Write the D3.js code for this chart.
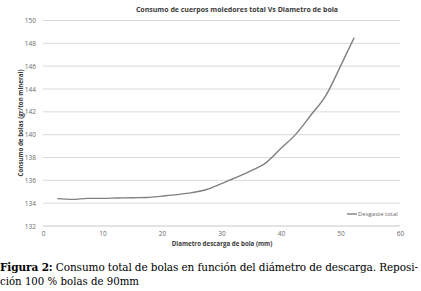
<!DOCTYPE html>
<html>
<head>
<meta charset="utf-8">
<script src="https://cdn.jsdelivr.net/npm/d3@7"></script>
<style>
  body { margin: 0; background: #fff; }
  svg { display: block; }
</style>
</head>
<body>
<div id="chart"></div>
<script>
// values
var diametro = [2.4, 5, 7.5, 10, 12.5, 15, 17.5, 20, 22.5, 25, 27.5, 30, 32.5, 35, 37.5, 40, 42.5, 45, 47.5, 50, 51, 52.3];
var desgaste = [134.4, 134.33, 134.42, 134.42, 134.45, 134.48, 134.5, 134.62, 134.75, 134.92, 135.2, 135.72, 136.25, 136.85, 137.55, 138.8, 140.05, 141.7, 143.4, 146.0, 147.1, 148.5];
var xTicks = [0, 10, 20, 30, 40, 50, 60];
var yTicks = [132, 134, 136, 138, 140, 142, 144, 146, 148, 150];

var width = 421, height = 291;
var margin = { top: 20.5, bottom: 65, left: 43, right: 21 };

var svg = d3.select("#chart").append("svg")
  .attr("width", width)
  .attr("height", height);

var x = d3.scaleLinear().domain([0, 60]).range([margin.left, width - margin.right]);
var y = d3.scaleLinear().domain([132, 150]).range([height - margin.bottom, margin.top]);

// gridlines
svg.append("g")
  .selectAll("line")
  .data(yTicks)
  .enter().append("line")
  .attr("x1", x(0)).attr("x2", x(60))
  .attr("y1", function(d) { return y(d); })
  .attr("y2", function(d) { return y(d); })
  .attr("stroke", function(d) { return d == 132 ? "#c8c8c8" : "#dadada"; })
  .attr("stroke-width", 1);

// y axis labels
svg.append("g")
  .attr("transform", "translate(" + (margin.left - 7) + ",0)")
  .call(d3.axisLeft(y).tickValues(yTicks).tickSize(0).tickPadding(0))
  .call(function(g) { g.select(".domain").remove(); })
  .selectAll("text")
  .attr("font-family", "Open Sans, sans-serif")
  .attr("font-size", "6.5px")
  .attr("fill", "#6a6a6a");

// x axis labels
svg.append("g")
  .attr("transform", "translate(0," + (y(132) + 5) + ")")
  .call(d3.axisBottom(x).tickValues(xTicks).tickSize(0).tickPadding(0))
  .call(function(g) { g.select(".domain").remove(); })
  .selectAll("text")
  .attr("font-family", "Open Sans, sans-serif")
  .attr("font-size", "6.5px")
  .attr("fill", "#6a6a6a");

// the line
var pts = diametro.map(function(d, i) { return [d, desgaste[i]]; });
svg.append("path")
  .datum(pts)
  .attr("fill", "none")
  .attr("stroke", "#808080")
  .attr("stroke-width", 1.4)
  .attr("d", d3.line().curve(d3.curveMonotoneX)
    .x(function(d) { return x(d[0]); })
    .y(function(d) { return y(d[1]); }));

// title
svg.append("text")
  .attr("x", 237).attr("y", 12)
  .attr("text-anchor", "middle")
  .attr("font-family", "Open Sans, sans-serif")
  .attr("font-weight", "bold")
  .attr("font-size", "7px")
  .attr("fill", "#3a3a3a")
  .text("Consumo de cuerpos moledores total Vs Diametro de bola");

// axis titles
svg.append("text")
  .attr("transform", "translate(23,123) rotate(-90)")
  .attr("text-anchor", "middle")
  .attr("font-family", "Open Sans, sans-serif")
  .attr("font-weight", "bold")
  .attr("font-size", "6.2px")
  .attr("fill", "#3a3a3a")
  .text("Consumo de bolas (gr/ton mineral)");

svg.append("text")
  .attr("x", 222).attr("y", 246)
  .attr("text-anchor", "middle")
  .attr("font-family", "Open Sans, sans-serif")
  .attr("font-weight", "bold")
  .attr("font-size", "6.2px")
  .attr("fill", "#3a3a3a")
  .text("Diametro descarga de bola (mm)");

// legend
var legY = 214;
svg.append("line").attr("x1", 347).attr("x2", 357).attr("y1", legY).attr("y2", legY)
  .attr("stroke", "#808080").attr("stroke-width", 1.4);
svg.append("text").attr("x", 358).attr("y", legY).attr("dy", "0.35em")
  .attr("font-family", "Open Sans, sans-serif")
  .attr("font-size", "6px")
  .attr("fill", "#6a6a6a")
  .text("Desgaste total");

// caption
var cap1 = svg.append("text")
  .attr("x", 0).attr("y", 270.5)
  .attr("font-family", "DejaVu Serif, serif")
  .attr("font-size", "10.5px")
  .attr("fill", "#000")
  .attr("textLength", 418)
  .attr("lengthAdjust", "spacing");
cap1.append("tspan").attr("font-weight", "bold").text("Figura 2:");
cap1.append("tspan").text(" Consumo total de bolas en función del diámetro de descarga. Reposi-");

svg.append("text")
  .attr("x", 0).attr("y", 284.5)
  .attr("font-family", "DejaVu Serif, serif")
  .attr("font-size", "10.5px")
  .attr("fill", "#000")
  .attr("textLength", 139)
  .attr("lengthAdjust", "spacingAndGlyphs")
  .text("ción 100 % bolas de 90mm");
</script>
</body>
</html>
